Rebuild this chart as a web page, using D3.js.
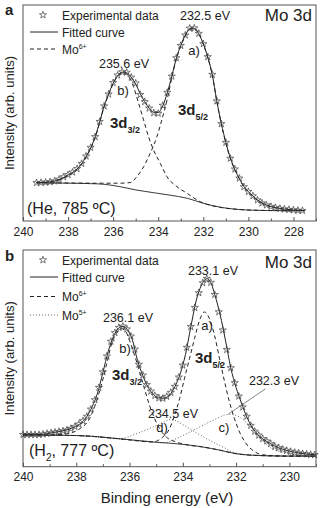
<!DOCTYPE html>
<html><head><meta charset="utf-8">
<script src="https://cdn.jsdelivr.net/npm/d3@7"></script>
<style>
body{margin:0;background:#fff}
text{font-family:"Liberation Sans",Arial,sans-serif;fill:#222}
</style>
</head><body>
<svg id="c" width="320" height="508"></svg>
<script>
// ---------- DATA (binding energy eV, intensity arb. units) ----------
const aTicks = [240,238,236,234,232,230,228];
const aMinor = [239,237,235,233,231,229,227];
const bTicks = [240,238,236,234,232,230];
const bMinor = [239,237,235,233,231,229];

// Panel a (He, 785 C)
const aExp = [[239.4,17.7],[239.2,17.8],[239.0,17.9],[238.8,18.1],[238.6,18.5],[238.4,19.3],[238.2,20.4],[238.0,21.4],[237.8,22.6],[237.6,24.2],[237.4,26.6],[237.2,30.0],[237.0,34.0],[236.8,39.0],[236.6,46.0],[236.4,53.2],[236.2,58.7],[236.0,64.0],[235.8,67.5],[235.6,69.0],[235.4,68.8],[235.2,66.5],[235.0,63.8],[234.8,58.5],[234.6,55.2],[234.4,52.2],[234.2,50.1],[234.0,49.8],[233.8,53.5],[233.6,59.5],[233.4,67.0],[233.2,75.5],[233.0,81.2],[232.8,86.0],[232.6,89.2],[232.4,89.3],[232.2,86.8],[232.0,82.0],[231.8,76.0],[231.6,67.8],[231.4,55.5],[231.2,45.0],[231.0,36.3],[230.8,29.0],[230.6,24.0],[230.4,19.8],[230.2,15.8],[230.0,13.6],[229.8,11.6],[229.6,9.7],[229.4,8.3],[229.2,7.4],[229.0,6.7],[228.8,6.2],[228.6,5.8],[228.4,5.5],[228.2,5.3],[228.0,5.1],[227.8,4.9],[227.6,4.8]];
const aFit = [[239.4,17.7],[238.8,18.1],[238.4,19.2],[238.0,21.3],[237.6,24.1],[237.2,29.8],[237.0,33.8],[236.8,38.9],[236.6,45.8],[236.4,53.2],[236.2,58.8],[236.0,63.8],[235.8,67.3],[235.6,68.9],[235.4,68.6],[235.2,66.6],[235.0,63.4],[234.8,59.0],[234.6,55.2],[234.4,52.2],[234.2,50.3],[234.0,50.2],[233.8,53.3],[233.6,59.3],[233.4,67.0],[233.2,75.2],[233.0,81.3],[232.8,86.0],[232.6,89.0],[232.4,89.2],[232.2,86.7],[232.0,82.0],[231.8,75.8],[231.6,67.6],[231.4,55.5],[231.2,45.1],[231.0,36.4],[230.8,29.2],[230.6,23.8],[230.4,19.6],[230.2,16.0],[230.0,13.6],[229.6,9.8],[229.2,7.4],[228.8,6.2],[228.4,5.5],[228.0,5.1],[227.5,4.8]];
const aBg = [[239.4,17.7],[238.0,17.5],[237.0,17.3],[236.4,17.0],[235.7,15.9],[235.0,14.4],[234.2,13.1],[233.5,12.0],[232.7,10.5],[232.0,8.2],[231.2,6.3],[230.5,5.4],[229.8,5.0],[228.5,4.8],[227.5,4.8]];
const aMo6_52 = [[239.4,17.7],[238.0,17.6],[236.5,17.5],[235.7,17.5],[235.24,17.8],[234.95,20.5],[234.65,25.1],[234.36,31.3],[234.06,39.0],[233.84,46.8],[233.61,56.0],[233.4,66.2],[233.2,74.8],[233.0,80.9],[232.8,85.6],[232.6,88.8],[232.4,89.0],[232.2,86.5],[232.0,81.8],[231.8,75.6],[231.6,67.4],[231.4,55.3],[231.2,44.8],[231.0,36.1],[230.8,28.9],[230.6,23.7],[230.4,19.6],[230.2,15.8],[230.0,13.5],[229.6,9.6],[229.2,7.3],[228.8,6.1],[228.4,5.4],[227.5,4.8]];
const aMo6_32 = [[239.4,17.7],[238.8,18.0],[238.4,19.0],[238.0,21.0],[237.6,23.8],[237.2,29.5],[236.8,38.6],[236.6,45.4],[236.4,52.9],[236.2,58.4],[236.0,63.5],[235.8,67.0],[235.6,68.5],[235.4,68.0],[235.2,65.0],[235.1,62.2],[234.87,54.5],[234.65,46.8],[234.43,39.0],[234.21,32.9],[233.91,26.7],[233.61,20.5],[233.17,15.9],[232.72,12.8],[232.13,8.9],[231.24,6.3],[230.5,5.4],[229.8,5.0],[228.5,4.8],[227.5,4.8]];

// Panel b (H2, 777 C)
const bExp = [[240.00,14.8],[239.85,14.8],[239.70,14.8],[239.55,14.8],[239.40,14.8],[239.25,15.0],[239.10,15.3],[238.95,15.6],[238.80,15.9],[238.65,16.2],[238.50,16.5],[238.35,16.9],[238.20,17.6],[238.05,18.5],[237.90,19.6],[237.75,21.2],[237.60,23.2],[237.45,26.5],[237.30,30.8],[237.15,36.5],[237.00,43.7],[236.85,51.0],[236.70,57.8],[236.55,61.8],[236.40,64.2],[236.25,64.8],[236.10,63.5],[235.95,60.2],[235.80,54.2],[235.65,47.2],[235.50,42.2],[235.35,37.8],[235.20,34.8],[235.05,32.8],[234.90,31.7],[234.75,31.5],[234.60,32.4],[234.45,34.2],[234.30,37.0],[234.15,41.3],[234.00,46.8],[233.85,55.0],[233.70,64.6],[233.55,73.4],[233.40,80.2],[233.25,84.8],[233.10,86.8],[232.95,85.0],[232.80,79.4],[232.65,71.4],[232.50,63.0],[232.35,54.0],[232.20,45.6],[232.05,38.7],[231.90,32.5],[231.75,27.5],[231.60,23.2],[231.45,19.0],[231.30,16.3],[231.15,14.5],[231.00,12.9],[230.85,11.8],[230.70,10.6],[230.55,9.4],[230.40,8.7],[230.25,8.0],[230.10,7.5],[229.95,7.0],[229.80,6.6],[229.65,6.3],[229.50,6.0],[229.35,5.8],[229.20,5.6],[229.05,5.5]];
const bFit = [[240.0,14.8],[239.4,14.8],[238.8,15.9],[238.4,16.8],[238.1,18.2],[237.8,20.3],[237.6,23.2],[237.4,27.8],[237.2,34.0],[237.0,43.5],[236.8,53.2],[236.6,60.2],[236.4,64.1],[236.25,64.8],[236.1,63.5],[235.9,58.8],[235.7,49.0],[235.5,42.0],[235.3,36.6],[235.1,33.3],[234.9,31.7],[234.7,31.6],[234.5,33.0],[234.3,36.9],[234.1,42.8],[233.9,51.8],[233.7,64.5],[233.5,76.5],[233.3,83.8],[233.1,86.8],[232.95,85.0],[232.8,79.4],[232.6,70.2],[232.4,58.4],[232.2,45.6],[232.0,36.5],[231.8,29.4],[231.6,23.0],[231.4,18.2],[231.2,15.0],[231.0,12.9],[230.7,10.6],[230.4,8.7],[230.0,7.2],[229.6,6.2],[229.0,5.5]];
const bBg = [[240.0,14.6],[238.5,14.5],[237.5,14.1],[236.4,12.9],[235.1,11.4],[233.9,10.2],[233.25,9.1],[232.6,7.6],[232.0,6.0],[231.4,5.3],[230.1,4.9],[229.0,4.9]];
const bMo6_52 = [[240.0,14.6],[238.5,14.5],[237.5,14.1],[236.4,12.9],[235.1,11.4],[234.95,12.0],[234.75,13.7],[234.5,17.5],[234.31,23.7],[234.12,31.4],[233.94,40.6],[233.75,49.8],[233.56,59.1],[233.37,67.6],[233.19,71.4],[233.0,68.3],[232.81,60.6],[232.62,49.8],[232.43,39.1],[232.25,29.9],[232.06,22.2],[231.87,16.0],[231.62,10.6],[231.38,7.6],[231.0,5.5],[230.1,4.9],[229.0,4.9]];
const bMo6_32 = [[240.0,14.6],[238.9,14.7],[238.37,15.2],[237.87,17.5],[237.5,22.2],[237.25,29.9],[237.06,37.6],[236.87,46.8],[236.69,56.0],[236.5,61.4],[236.31,63.7],[236.15,62.5],[236.0,58.3],[235.81,51.4],[235.62,43.7],[235.44,36.0],[235.25,28.3],[235.06,22.2],[234.87,17.5],[234.62,13.7],[234.25,11.4],[233.9,10.2],[233.25,9.1],[232.6,7.6],[232.0,6.0],[231.4,5.3],[230.1,4.9],[229.0,4.9]];
const bMo5_52 = [[240.0,14.6],[238.5,14.5],[237.5,14.1],[236.4,12.9],[235.1,11.4],[234.75,11.0],[234.12,13.7],[233.5,17.5],[232.87,21.4],[232.25,24.2],[231.87,22.9],[231.5,19.1],[231.12,13.7],[230.75,9.1],[230.25,6.5],[229.62,5.3],[229.0,4.9]];
const bMo5_32 = [[240.0,14.6],[238.5,14.5],[237.5,14.1],[236.37,12.9],[235.75,15.2],[235.12,18.3],[234.62,21.1],[234.44,21.9],[234.0,19.4],[233.5,15.7],[233.0,12.2],[232.5,9.1],[232.1,6.6],[231.4,5.3],[230.1,4.9],[229.0,4.9]];

// ---------- DRAW ----------
const svg = d3.select("#c");
const LEFT = 23, RIGHT = 316;
const INK = "#222";

function panel(o) {
  const g = svg.append("g");
  const x = d3.scaleLinear().domain(o.xdom).range([LEFT, RIGHT]);
  const y = d3.scaleLinear().domain([0, 100]).range([o.bottom, o.top]);
  const line = d3.line().x(d => x(d[0])).y(d => y(d[1])).curve(d3.curveMonotoneX);

  // frame
  g.append("rect").attr("x", LEFT).attr("y", o.top)
    .attr("width", RIGHT - LEFT).attr("height", o.bottom - o.top)
    .attr("fill", "none").attr("stroke", "#555").attr("stroke-width", 1);

  // axes (ticks inside)
  const ax = g.append("g").attr("transform", `translate(0,${o.bottom})`)
    .call(d3.axisBottom(x).tickValues(o.ticks).tickFormat(d3.format("d"))
      .tickSizeInner(-4).tickSizeOuter(0).tickPadding(6));
  ax.select(".domain").remove();
  ax.selectAll("line").attr("stroke", "#555");
  ax.selectAll("text").attr("font-size", 12).attr("fill", INK)
    .attr("font-family", '"Liberation Sans",Arial,sans-serif');
  const mx = g.append("g").attr("transform", `translate(0,${o.bottom})`)
    .call(d3.axisBottom(x).tickValues(o.minor).tickFormat("").tickSizeInner(-2.5).tickSizeOuter(0));
  mx.select(".domain").remove();
  mx.selectAll("line").attr("stroke", "#555");

  // y label
  g.append("text").attr("transform", `translate(14,${(o.top + o.bottom) / 2}) rotate(-90)`)
    .attr("text-anchor", "middle").attr("font-size", 13).text("Intensity (arb. units)");

  // curves
  o.dotted.forEach(s => g.append("path").attr("d", line(s)).attr("fill", "none")
    .attr("stroke", "#555").attr("stroke-width", 0.9).attr("stroke-dasharray", "1,2"));
  g.append("path").attr("d", line(o.bg)).attr("fill", "none").attr("stroke", INK).attr("stroke-width", 0.9);
  o.dashed.forEach(s => g.append("path").attr("d", line(s)).attr("fill", "none")
    .attr("stroke", INK).attr("stroke-width", 1).attr("stroke-dasharray", "4,3"));
  g.append("path").attr("d", line(o.fit)).attr("fill", "none").attr("stroke", INK).attr("stroke-width", 1);

  // experimental stars
  const star = d3.symbol().type(d3.symbolStar).size(16);
  g.selectAll("path.star").data(o.exp).join("path").attr("class", "star")
    .attr("d", star).attr("transform", d => `translate(${x(d[0])},${y(d[1])})`)
    .attr("fill", "none").attr("stroke", "#444").attr("stroke-width", 0.7);

  return { g, x, y, star };
}

function legend(g, star, rows, x0) {
  rows.forEach(r => {
    if (r.type === "star") {
      g.append("path").attr("d", star).attr("transform", `translate(${x0 + 15},${r.cy})`)
        .attr("fill", "none").attr("stroke", "#444").attr("stroke-width", 0.7);
    } else {
      const l = g.append("line").attr("x1", x0 + 2).attr("x2", x0 + 30).attr("y1", r.cy).attr("y2", r.cy)
        .attr("stroke", r.type === "dot" ? "#555" : INK).attr("stroke-width", r.type === "dot" ? 0.9 : 1);
      if (r.type === "dash") l.attr("stroke-dasharray", "4,3");
      if (r.type === "dot") l.attr("stroke-dasharray", "1,2");
    }
    const t = g.append("text").attr("x", x0 + 34).attr("y", r.cy + 4.5).attr("font-size", 12);
    t.append("tspan").text(r.label);
    if (r.sup) t.append("tspan").attr("font-size", 7).attr("dy", -5).text(r.sup);
  });
}

function label3d(g, x0, y0, sub) {
  const t = g.append("text").attr("x", x0).attr("y", y0).attr("font-size", 15).attr("font-weight", "bold");
  t.append("tspan").text("3d");
  t.append("tspan").attr("font-size", 9).attr("dy", 5).text(sub);
}

function txt(g, x0, y0, s, size, anchor) {
  return g.append("text").attr("x", x0).attr("y", y0).attr("font-size", size)
    .attr("text-anchor", anchor || "start").text(s);
}

// ----- panel a -----
const A = panel({ top: 5, bottom: 221, xdom: [240, 227], ticks: aTicks, minor: aMinor,
  exp: aExp, fit: aFit, bg: aBg, dashed: [aMo6_52, aMo6_32], dotted: [] });
txt(svg, 5, 15, "a", 15).attr("font-weight", "bold");
legend(A.g, A.star, [
  { type: "star", cy: 15, label: "Experimental data" },
  { type: "line", cy: 32, label: "Fitted curve" },
  { type: "dash", cy: 49, label: "Mo", sup: "6+" }], 28);
txt(A.g, 312, 21, "Mo 3d", 17, "end");
txt(A.g, 205, 19.5, "232.5 eV", 12.5, "middle");
txt(A.g, 124, 67.5, "235.6 eV", 12.5, "middle");
txt(A.g, 194, 55, "a)", 13, "middle");
txt(A.g, 123, 95, "b)", 13, "middle");
label3d(A.g, 178, 115, "5/2");
label3d(A.g, 110, 128, "3/2");
txt(A.g, 27, 214, "(He, 785 ºC)", 16);

// ----- panel b -----
const B = panel({ top: 250, bottom: 466.7, xdom: [240, 229], ticks: bTicks, minor: bMinor,
  exp: bExp, fit: bFit, bg: bBg, dashed: [bMo6_52, bMo6_32], dotted: [bMo5_52, bMo5_32] });
txt(svg, 5, 261, "b", 15).attr("font-weight", "bold");
legend(B.g, B.star, [
  { type: "star", cy: 260, label: "Experimental data" },
  { type: "line", cy: 277, label: "Fitted curve" },
  { type: "dash", cy: 296.5, label: "Mo", sup: "6+" },
  { type: "dot", cy: 315, label: "Mo", sup: "5+" }], 28);
txt(B.g, 312, 268, "Mo 3d", 17, "end");
txt(B.g, 213, 275, "233.1 eV", 12.5, "middle");
txt(B.g, 128, 322, "236.1 eV", 12.5, "middle");
txt(B.g, 207, 330, "a)", 13, "middle");
txt(B.g, 125, 353, "b)", 13, "middle");
label3d(B.g, 195, 363, "5/2");
label3d(B.g, 112, 380, "3/2");
txt(B.g, 274, 385, "232.3 eV", 12.5, "middle");
txt(B.g, 173, 418, "234.5 eV", 12.5, "middle");
txt(B.g, 162, 432, "d)", 13, "middle");
txt(B.g, 224, 432, "c)", 13, "middle");
// pointer from label to Mo5+ 3d5/2 peak
B.g.append("line").attr("x1", B.x(232.3)).attr("y1", B.y(24.2))
  .attr("x2", B.x(230.9)).attr("y2", B.y(35.9)).attr("stroke", "#666").attr("stroke-width", 0.8);
const h2 = B.g.append("text").attr("x", 29).attr("y", 456).attr("font-size", 16);
h2.append("tspan").text("(H");
h2.append("tspan").attr("font-size", 10).attr("dy", 5).text("2");
h2.append("tspan").attr("dy", -5).text(", 777 ºC)");
txt(svg, 167, 503, "Binding energy (eV)", 15, "middle");
</script>
</body></html>
